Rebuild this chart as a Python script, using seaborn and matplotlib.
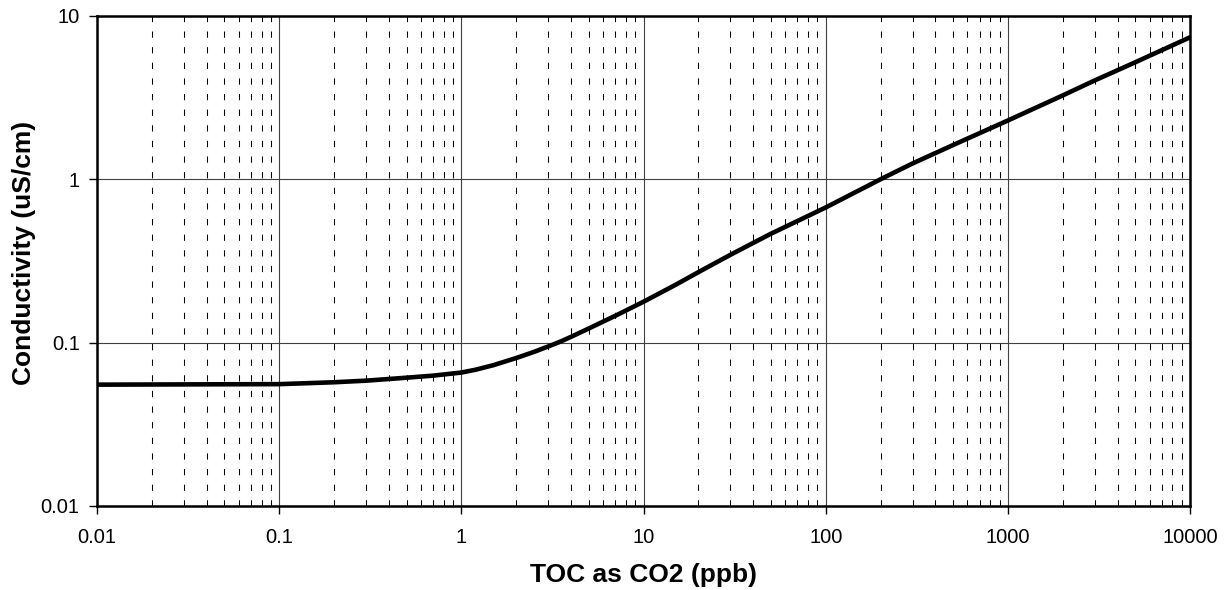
import seaborn as sns
import matplotlib.pyplot as plt
import pandas as pd
from matplotlib.ticker import LogLocator, FixedLocator, FixedFormatter

# TOC (ppb) vs conductivity (uS/cm)
toc = [0.01, 0.03, 0.05, 0.1, 0.2, 0.3, 0.5, 0.7, 1, 1.2, 1.5, 2, 2.5, 3, 3.5, 4, 5, 7, 10, 15, 20, 30, 50, 100,
       200, 300, 500, 1000, 2000, 3000, 5000, 10000]
cond = [0.0553, 0.0555, 0.0556, 0.0557, 0.0572, 0.0585, 0.061, 0.0628, 0.0656, 0.0683, 0.0728, 0.0805, 0.0877,
        0.0948, 0.1015, 0.1085, 0.122, 0.146, 0.178, 0.226, 0.27, 0.345, 0.464, 0.672,
        1.0, 1.25, 1.62, 2.29, 3.26, 4.03, 5.2, 7.4]

x_ticks = [0.01, 0.1, 1, 10, 100, 1000, 10000]
x_labels = ["0.01", "0.1", "1", "10", "100", "1000", "10000"]
y_ticks = [0.01, 0.1, 1, 10]
y_labels = ["0.01", "0.1", "1", "10"]

df = pd.DataFrame({"toc": toc, "cond": cond})

sns.set_style("white")
plt.rcParams["font.family"] = ["Liberation Sans", "DejaVu Sans"]
plt.rcParams["text.color"] = "black"
plt.rcParams["axes.labelcolor"] = "black"
plt.rcParams["xtick.color"] = "black"
plt.rcParams["ytick.color"] = "black"

fig = plt.figure(figsize=(12.3, 5.9), dpi=100)
ax = fig.add_axes([0.0789, 0.1424, 0.8886, 0.8306])

ax.set_xscale("log")
ax.set_yscale("log")
ax.set_xlim(0.01, 10000)
ax.set_ylim(0.01, 10)

# grid: solid at decades, dashed at minor x
ax.xaxis.set_major_locator(FixedLocator(x_ticks))
ax.xaxis.set_major_formatter(FixedFormatter(x_labels))
ax.yaxis.set_major_locator(FixedLocator(y_ticks))
ax.yaxis.set_major_formatter(FixedFormatter(y_labels))
ax.xaxis.set_minor_locator(LogLocator(base=10, subs=range(2, 10), numticks=20))
ax.yaxis.set_minor_locator(FixedLocator([]))
ax.grid(which="major", axis="both", color="#404040", linewidth=0.8, linestyle="-")
ax.grid(which="minor", axis="x", color="black", linewidth=0.75, linestyle=(0, (6, 9)))
ax.set_axisbelow(True)

sns.lineplot(data=df, x="toc", y="cond", ax=ax, color="black", linewidth=3.3)

for s in ax.spines.values():
    s.set_color("black")
    s.set_linewidth(1.8)

ax.tick_params(axis="both", which="major", direction="out", length=5.5, width=1,
               labelsize=14.5, bottom=True, left=True)
ax.tick_params(axis="x", which="minor", length=0)
ax.tick_params(axis="x", pad=10)
ax.tick_params(axis="y", pad=7)

ax.set_xlabel("TOC as CO2 (ppb)", fontsize=19, fontweight="bold", labelpad=12)
ax.set_ylabel("Conductivity (uS/cm)", fontsize=19, fontweight="bold")
ax.yaxis.set_label_coords(-0.056, 0.516)

fig.savefig("out.png", dpi=100)
